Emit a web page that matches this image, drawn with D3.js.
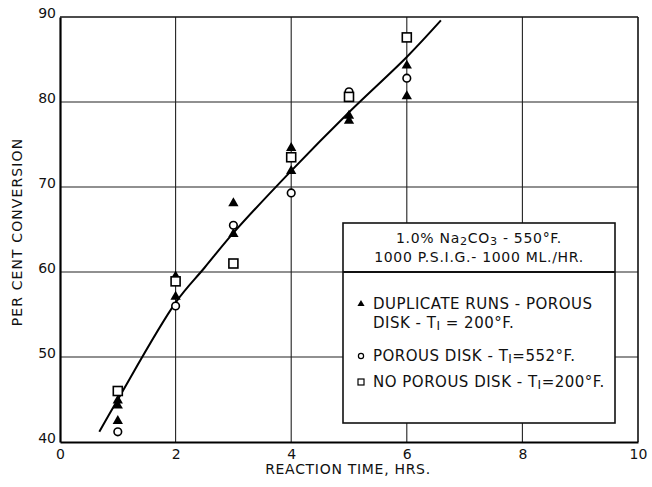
<!DOCTYPE html>
<html>
<head>
<meta charset="utf-8">
<script src="https://cdn.jsdelivr.net/npm/d3@7"></script>
<style>
  body { margin: 0; background: #fff; }
  svg { font-family: "DejaVu Sans", sans-serif; }
</style>
</head>
<body>
<svg id="chart" width="652" height="487"></svg>
<script>
// values
const xTicks = [0, 2, 4, 6, 8, 10];
const yTicks = [40, 50, 60, 70, 80, 90];

const dupTime = [1, 1, 1, 2, 2, 3, 3, 4, 4, 5, 5, 6, 6];
const dupConv = [45.0, 44.4, 42.6, 59.6, 57.2, 68.2, 64.6, 74.7, 72.0, 78.5, 77.9, 84.4, 80.8];

const hotTime = [1, 2, 3, 4, 5, 6];
const hotConv = [41.2, 56.0, 65.5, 69.3, 81.2, 82.8];

const noDiskTime = [1, 2, 3, 4, 5, 6];
const noDiskConv = [46.0, 58.9, 61.0, 73.5, 80.6, 87.6];

const fitTime = [0.68, 1, 2, 2.5, 3, 4, 5, 6, 6.59];
const fitConv = [41.2, 45.0, 56.4, 60.5, 64.6, 71.9, 78.8, 85.3, 89.6];

const legendTitle = ["1.0% Na|2|CO|3| - 550°F.", "1000 P.S.I.G.- 1000 ML./HR."];
const legendItems = [
    { mark: "tri", lines: ["DUPLICATE RUNS - POROUS", "DISK - T|I| = 200°F."] },
    { mark: "circ", lines: ["POROUS DISK - T|I|=552°F."] },
    { mark: "sq", lines: ["NO POROUS DISK - T|I|=200°F."] }
];

const pLeft = 60, pTop = 17, pRight = 638, pBottom = 442;

const svg = d3.select("#chart");

const x = d3.scaleLinear([0, 10], [pLeft, pRight]);
const y = d3.scaleLinear([40, 90], [pBottom, pTop]);

// grid
svg.append("g")
    .selectAll("line")
    .data(xTicks.slice(1, -1))
    .join("line")
    .attr("x1", d => x(d)).attr("x2", d => x(d))
    .attr("y1", pTop).attr("y2", pBottom)
    .attr("stroke", "#222").attr("stroke-width", 1.1);

svg.append("g")
    .selectAll("line")
    .data(yTicks.slice(1, -1))
    .join("line")
    .attr("x1", pLeft).attr("x2", pRight)
    .attr("y1", d => y(d)).attr("y2", d => y(d))
    .attr("stroke", "#222").attr("stroke-width", 1.1);

// frame
svg.append("line").attr("x1", pLeft).attr("x2", pRight).attr("y1", pTop).attr("y2", pTop)
    .attr("stroke", "#111").attr("stroke-width", 1.6);
svg.append("line").attr("x1", pRight).attr("x2", pRight).attr("y1", pTop).attr("y2", pBottom)
    .attr("stroke", "#111").attr("stroke-width", 1.6);

const xAxis = svg.append("g")
    .attr("transform", `translate(0,${pBottom})`)
    .call(d3.axisBottom(x).tickValues(xTicks).tickSize(0).tickPadding(6));
const yAxis = svg.append("g")
    .attr("transform", `translate(${pLeft},0)`)
    .call(d3.axisLeft(y).tickValues(yTicks).tickSize(0).tickPadding(4));

[xAxis, yAxis].forEach(a => {
    a.select(".domain").attr("stroke", "#000").attr("stroke-width", 2.2);
    a.selectAll("text")
        .attr("font-size", "14px")
        .attr("font-family", "DejaVu Sans")
        .attr("fill", "#111");
});
yAxis.selectAll("text").attr("dy", "0.05em");
xAxis.selectAll("text").attr("dy", "0.75em");

svg.append("text")
    .attr("x", 348).attr("y", 474)
    .attr("text-anchor", "middle")
    .attr("font-size", "14px")
    .attr("letter-spacing", "0.7px")
    .attr("fill", "#111")
    .text("REACTION TIME, HRS.");

svg.append("text")
    .attr("transform", "translate(22,232) rotate(-90)")
    .attr("text-anchor", "middle")
    .attr("font-size", "14px")
    .attr("letter-spacing", "1.1px")
    .attr("fill", "#111")
    .text("PER CENT CONVERSION");

// fitted curve
const line = d3.line()
    .x((d, i) => x(fitTime[i]))
    .y(d => y(d))
    .curve(d3.curveCatmullRom);

svg.append("path")
    .attr("d", line(fitConv))
    .attr("fill", "none")
    .attr("stroke", "#000")
    .attr("stroke-width", 2);

// markers
const triSym = d3.symbol(d3.symbolTriangle, 46);

svg.append("g")
    .selectAll("path")
    .data(dupConv)
    .join("path")
    .attr("d", triSym)
    .attr("transform", (d, i) => `translate(${x(dupTime[i])},${y(d) + 1})`)
    .attr("fill", "#000");

svg.append("g")
    .selectAll("circle")
    .data(hotConv)
    .join("circle")
    .attr("cx", (d, i) => x(hotTime[i]))
    .attr("cy", d => y(d))
    .attr("r", 3.8)
    .attr("fill", "#fff")
    .attr("stroke", "#000")
    .attr("stroke-width", 1.6);

svg.append("g")
    .selectAll("rect")
    .data(noDiskConv)
    .join("rect")
    .attr("x", (d, i) => x(noDiskTime[i]) - 4.5)
    .attr("y", d => y(d) - 4.5)
    .attr("width", 9)
    .attr("height", 9)
    .attr("fill", "#fff")
    .attr("stroke", "#000")
    .attr("stroke-width", 1.6);

// legend
const lg = svg.append("g");
lg.append("rect")
    .attr("x", 343).attr("y", 223)
    .attr("width", 272).attr("height", 200)
    .attr("fill", "#fff")
    .attr("stroke", "#111")
    .attr("stroke-width", 1.6);
lg.append("line")
    .attr("x1", 343).attr("x2", 615)
    .attr("y1", 272).attr("y2", 272)
    .attr("stroke", "#111").attr("stroke-width", 2);

// "a|b|c" -> b is written as subscript
function writeParts(textSel, str) {
    str.split("|").forEach((part, k) => {
        const t = textSel.append("tspan").text(part);
        if (k % 2 == 1) t.attr("baseline-shift", "-18%").attr("font-size", "0.8em");
    });
}

legendTitle.forEach((s, i) => {
    const t = lg.append("text")
        .attr("x", 479).attr("y", 243 + i * 19)
        .attr("text-anchor", "middle")
        .attr("font-size", "14px")
        .attr("letter-spacing", "0.7px")
        .attr("fill", "#111");
    writeParts(t, s);
});

const itemY = [309, 361, 387];
legendItems.forEach((item, i) => {
    item.lines.forEach((s, j) => {
        const t = lg.append("text")
            .attr("x", 373).attr("y", itemY[i] + j * 19)
            .attr("font-size", "15px")
            .attr("letter-spacing", "0.5px")
            .attr("fill", "#111");
        writeParts(t, s);
    });
    const my = itemY[i] - 5;
    if (item.mark == "tri") {
        lg.append("path").attr("d", d3.symbol(d3.symbolTriangle, 22))
            .attr("transform", `translate(361,${my})`).attr("fill", "#000");
    } else if (item.mark == "circ") {
        lg.append("circle").attr("cx", 361).attr("cy", my).attr("r", 2.6)
            .attr("fill", "#fff").attr("stroke", "#000").attr("stroke-width", 1.2);
    } else {
        lg.append("rect").attr("x", 358).attr("y", my - 3).attr("width", 6).attr("height", 6)
            .attr("fill", "#fff").attr("stroke", "#000").attr("stroke-width", 1.2);
    }
});
</script>
</body>
</html>
